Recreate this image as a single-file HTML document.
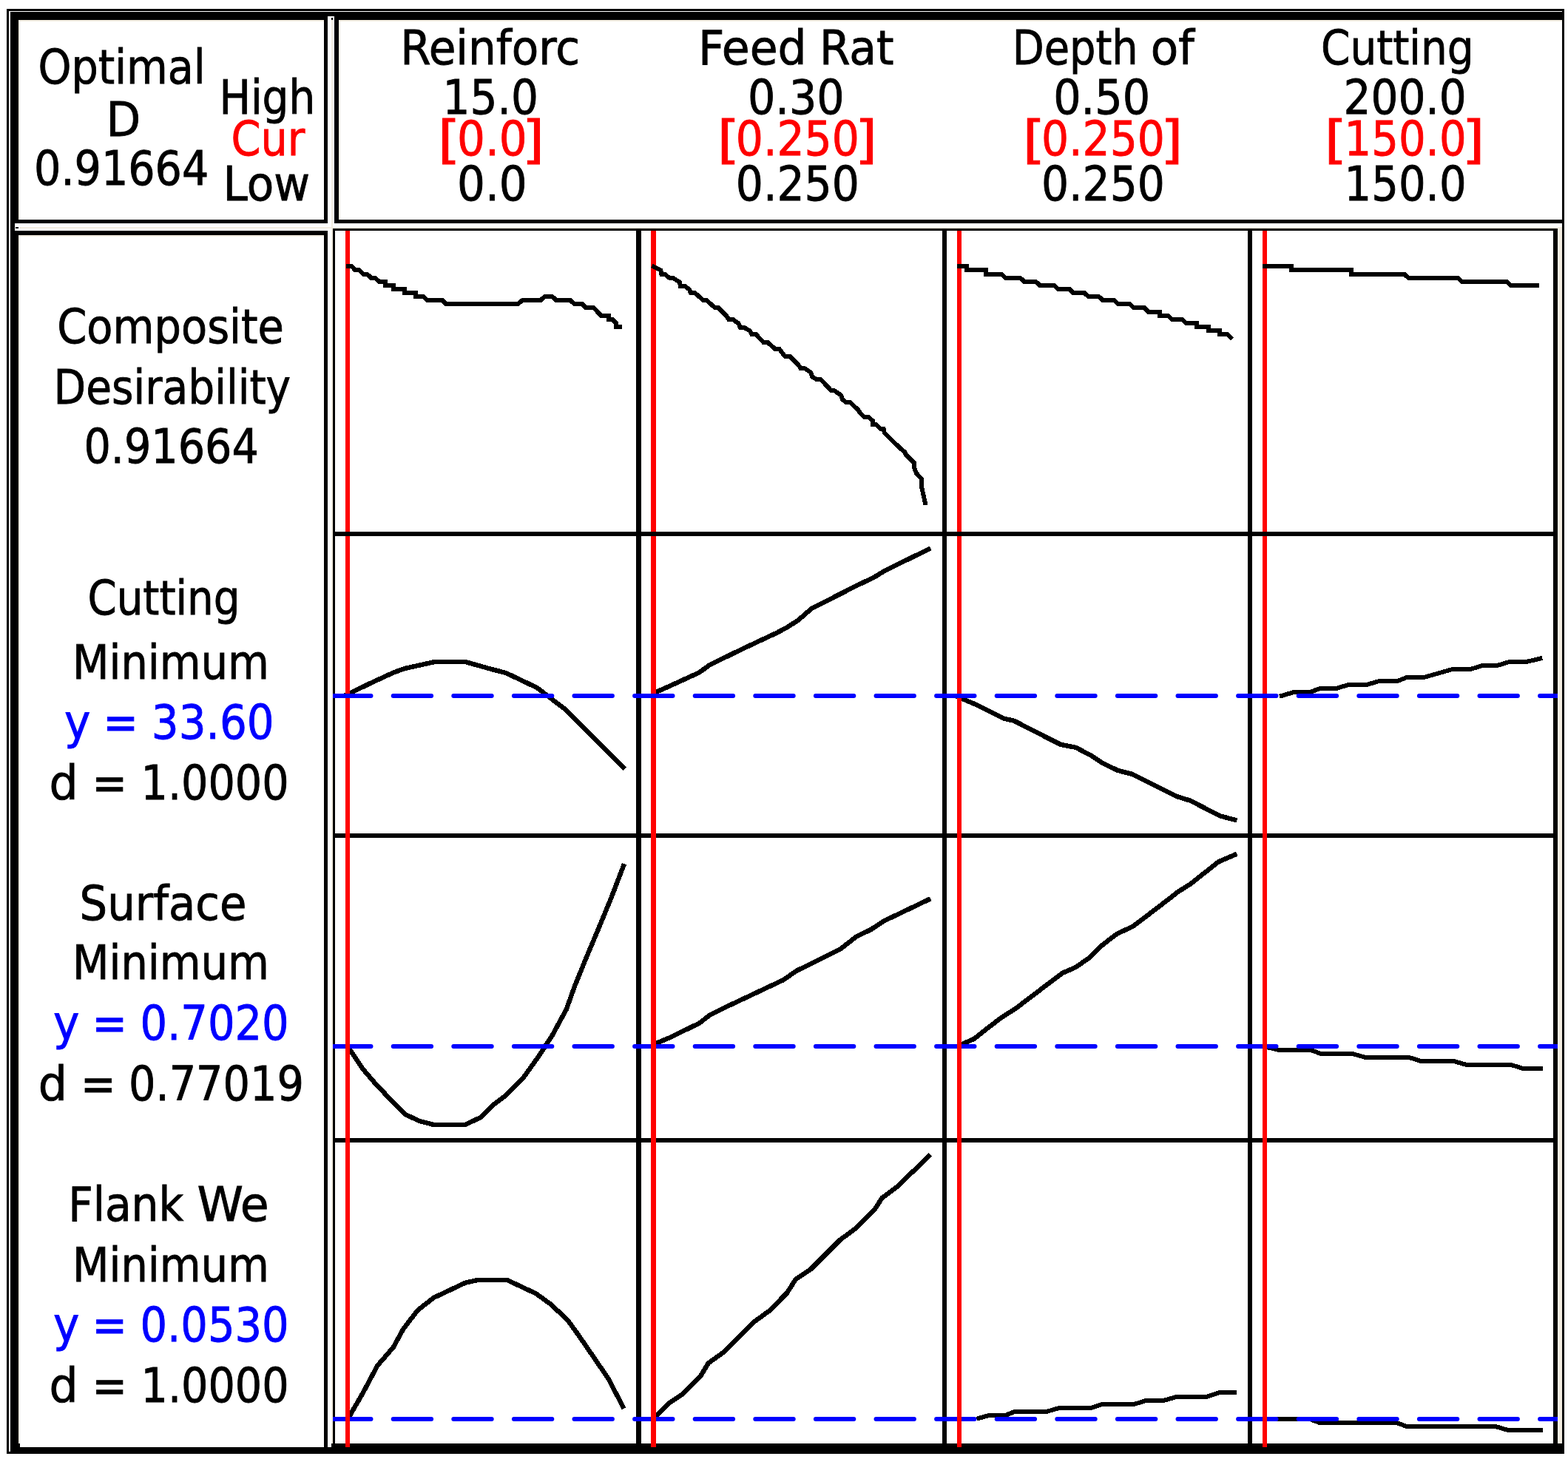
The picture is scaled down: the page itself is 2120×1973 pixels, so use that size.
<!DOCTYPE html>
<html lang="en"><head><meta charset="utf-8"><title>Optimization Plot</title>
<style>html,body{margin:0;padding:0;background:#fff;overflow:hidden}svg{display:block}text{font-family:"DejaVu Sans Condensed","DejaVu Sans","Liberation Sans",sans-serif;font-size:64px;stroke-width:0.8}</style>
</head><body>
<svg width="2120" height="1973" viewBox="0 0 2120 1973">
<defs><clipPath id="plot"><rect x="450" y="309" width="1656" height="1648"/></clipPath></defs>
<rect width="2120" height="1973" fill="#fff"/>
<g shape-rendering="crispEdges">
<rect x="25" y="27" width="2" height="270" fill="#f3ede1"/>
<rect x="25" y="27" width="413" height="2" fill="#f3ede1"/>
<rect x="25" y="318" width="2" height="1634" fill="#f3ede1"/>
<rect x="25" y="318" width="413" height="2" fill="#f3ede1"/>
<rect x="458" y="27" width="2" height="270" fill="#f3ede1"/>
<rect x="458" y="27" width="1654" height="2" fill="#f3ede1"/>
<rect x="448" y="27" width="2" height="1925" fill="#f3ede1"/>
<rect x="26" y="307" width="2080" height="2" fill="#f3ede1"/>
<rect x="2106" y="307" width="6" height="1645" fill="#f3ede1"/>
</g>
<g fill="none" stroke="#000" stroke-width="6.4" stroke-linejoin="round" stroke-linecap="butt" shape-rendering="crispEdges">
<polyline points="465.7,940.9 503.2,922.8 532,909.5 547.5,903.9 587.4,895.1 629.5,895.1 665,905.1 683.8,909.9 725.9,929.9 765.8,960.5 844.7,1039.8"/>
<polyline points="881.1,938.5 904.3,928.3 945.3,909.5 959.7,899.1 1001.8,878.5 1050.6,855.6 1063.9,848.5 1079.4,838.6 1097.1,823.1 1158.1,792 1181.4,780.9 1196.9,771.4 1258.3,741.4"/>
<polyline points="1292.8,941.5 1319.3,952.7 1357,971.5 1371.4,974.9 1412.4,995.9 1434.6,1007 1454.5,1010.8 1476.7,1022.5 1490,1031.4 1511,1041.8 1531,1046.9 1550.9,1056.9 1591.9,1077.3 1609.6,1082.8 1649.5,1103.4 1672.3,1109.4"/>
<polyline points="468.9,1413.1 489.9,1444.7 509.8,1468 547.5,1506.8 567.5,1516.1 587.4,1521.2 628.4,1521.2 649.5,1511.2 666.1,1494.6 682.7,1482.4 707.1,1458 727,1430.3 745.9,1401.5 765.8,1364.9 776.9,1333.9 791.3,1298.4 809,1256.3 826.8,1213.1 844,1168.2"/>
<polyline points="881.1,1413.3 904.3,1403.7 945.3,1383.8 959.7,1372.7 981.9,1361.6 1059.5,1325 1076.1,1313.3 1137,1282.9 1158.1,1266.3 1176.9,1257.4 1194.6,1245.7 1258.3,1215.2"/>
<polyline points="1292.8,1415.6 1317.1,1404.8 1333.7,1391.5 1352.6,1377.1 1374.7,1362.7 1430.1,1320.6 1436.8,1315.7 1454.5,1308 1474.5,1294 1491.1,1277.4 1509.9,1263 1532.1,1252.6 1585.3,1212 1591.9,1206.5 1609.6,1195.4 1647.3,1165.5 1672.3,1154.8"/>
<polyline points="470.8,1918 490.9,1883.3 510.2,1846.9 531.7,1822 545.4,1797 564.6,1772 586.2,1755 629.4,1734.6 647.5,1730.7 685,1730.7 724.7,1749.3 745.1,1764.1 767.8,1785.6 782.6,1806.1 822.3,1864 843.6,1904.8"/>
<polyline points="882.9,1918.8 905.4,1896.9 922.4,1885.5 947.4,1860.6 957.6,1843.5 978.1,1828.8 1018.9,1787.9 1039.4,1773.2 1064.3,1748.2 1075.7,1730 1096.1,1716.4 1135.8,1676.7 1157.4,1660.8 1182.4,1635.8 1192.6,1619.9 1214.2,1604 1257.5,1561.4"/>
</g>
<g fill="none" stroke="#000" stroke-width="6" stroke-linejoin="miter" stroke-linecap="butt" shape-rendering="crispEdges">
<polyline points="1729.9,941.8 1749.8,935.8 1772,935.8 1785.3,930.7 1807.5,930.7 1824.1,925.8 1848.5,925.8 1865.1,920.9 1889.5,920.9 1902.8,915.8 1926,915.8 1964.8,904.7 1989.2,904.7 2004.7,899.9 2024.6,899.9 2041.3,894.8 2064.5,894.8 2085.2,889.9"/>
<polyline points="1713.2,1416.2 1729.1,1419.8 1771.3,1419.8 1785.1,1424.6 1827.3,1424.6 1845.3,1429.7 1904.4,1429.7 1921.3,1435 1965.7,1435 1982.6,1439.9 2042.8,1439.9 2059.7,1445.1 2085.8,1445.1"/>
<polyline points="1320.4,1918.7 1337.3,1913.9 1359.5,1913.9 1372.2,1908.8 1415.5,1908.8 1432.4,1903.9 1475.7,1903.9 1489.4,1899.1 1532.7,1899.1 1549.6,1894 1572.9,1894 1589.8,1889.2 1629.9,1889.2 1648.9,1883.2 1671.9,1883.2"/>
<polyline points="1713.2,1918.7 1770.3,1918.7 1784,1924 1888.6,1924 1901.3,1928.9 2021.7,1928.9 2038.6,1933.9 2085.8,1933.9"/>
</g>
<g shape-rendering="crispEdges">
<rect x="9" y="12" width="2106" height="3" fill="#000"/>
<rect x="9" y="1963" width="2106" height="3" fill="#000"/>
<rect x="9" y="12" width="3" height="1954" fill="#000"/>
<rect x="2112" y="12" width="3" height="1954" fill="#000"/>
<rect x="14" y="16" width="2098" height="11" fill="#000"/>
<rect x="443" y="22" width="9" height="5" fill="#fff"/>
<rect x="448" y="24" width="2" height="3" fill="#000"/>
<rect x="14" y="16" width="11" height="286" fill="#000"/>
<rect x="438" y="16" width="5" height="286" fill="#000"/>
<rect x="14" y="297" width="429" height="5" fill="#000"/>
<rect x="14" y="302" width="6" height="10" fill="#000"/>
<rect x="21" y="307" width="4" height="2" fill="#000"/>
<rect x="14" y="312" width="11" height="1654" fill="#000"/>
<rect x="14" y="312" width="429" height="6" fill="#000"/>
<rect x="438" y="312" width="5" height="1645" fill="#000"/>
<rect x="14" y="1957" width="2101" height="9" fill="#000"/>
<rect x="448" y="1952" width="1667" height="5" fill="#000"/>
<rect x="25" y="1952" width="2" height="5" fill="#000"/>
<rect x="452" y="22" width="6" height="280" fill="#000"/>
<rect x="452" y="297" width="1660" height="5" fill="#000"/>
<rect x="450" y="309" width="1656" height="3" fill="#000"/>
<rect x="450" y="309" width="3" height="1643" fill="#000"/>
<rect x="2100" y="309" width="6" height="1643" fill="#000"/>
<rect x="860" y="309" width="7" height="1643" fill="#000"/>
<rect x="1274" y="309" width="6" height="1643" fill="#000"/>
<rect x="1687" y="309" width="6" height="1643" fill="#000"/>
<rect x="450" y="719" width="1656" height="6" fill="#000"/>
<rect x="450" y="1127" width="1656" height="6" fill="#000"/>
<rect x="450" y="1539" width="1656" height="6" fill="#000"/>
</g>
<g fill="none" stroke="#00f" stroke-width="6" stroke-dasharray="51.4 30.2" stroke-linecap="round" clip-path="url(#plot)">
<path d="M450.1 1415 H2112"/>
<path d="M450.1 1919 H2112"/>
</g>
<g shape-rendering="crispEdges">
<rect x="467" y="312" width="6" height="407" fill="#f00"/>
<rect x="467" y="725" width="6" height="1232" fill="#f00"/>
<rect x="880" y="312" width="7" height="407" fill="#f00"/>
<rect x="880" y="725" width="7" height="1232" fill="#f00"/>
<rect x="1294" y="312" width="6" height="407" fill="#f00"/>
<rect x="1294" y="725" width="6" height="1232" fill="#f00"/>
<rect x="1707" y="312" width="6" height="407" fill="#f00"/>
<rect x="1707" y="725" width="6" height="1232" fill="#f00"/>
</g>
<g fill="none" stroke="#000" stroke-width="6" stroke-linejoin="miter" stroke-linecap="butt" shape-rendering="crispEdges">
<polyline points="467.6,360.1 475.4,360.1 480.6,365.4 485.9,365.4 491.2,370.8 496.5,370.8 501.8,375.9 507,375.9 513,381 520.8,381 520.8,386.1 532,386.1 532,391.1 546.8,391.1 546.8,396.2 562,396.2 562,401.1 572.5,401.1 577.8,406.1 597.9,406.1 603.2,411 700.4,411 706.1,406.1 731,406.1 736.3,401.1 746.8,401.1 752.1,406.1 771.1,406.1 776.4,411 787,411 792.3,416.1 802.4,416.1 813,426.8 822.9,426.8 822.9,431.9 828.2,431.9 832.8,436.8 832.8,442 840.5,442"/>
<polyline points="881.1,359.4 893.2,365.4 894.4,370.9 898.8,370.9 905.4,376 909.9,376 918.7,381.4 919.8,386.5 925.4,386.5 932,391.6 934.2,396.4 939.8,396.4 950.9,406 955.3,406 966.4,415.9 970.8,415.9 981.9,426.8 985.2,431.9 990.8,431.9 998.5,437.4 1000.7,442.5 1005.2,442.5 1014,447.4 1016.2,451.8 1021.8,451.8 1031.8,462.5 1037.3,462.5 1048.4,472.2 1053.9,472.2 1061.7,482.4 1068.3,482.4 1079.4,493.3 1082.7,498.4 1088.3,498.4 1096,503.5 1098.2,509.5 1103.8,512.8 1109.3,512.8 1119.3,523.2 1123.7,528.3 1128.2,528.3 1137,534.5 1139.2,540.5 1143.7,543.8 1149.2,543.8 1160.3,554.4 1163.6,559.3 1169.2,564.4 1174.7,564.4 1180.2,569.3 1180.2,574.4 1184.7,574.4 1190.2,579.9 1194.6,579.9 1195.8,585.5 1216.8,605.9 1223.5,611.4 1224.6,614.7 1235.6,625.8 1235.6,631.4 1239,640.2 1245.6,646.9 1245.6,656.8 1251.6,683"/>
<polyline points="1293.6,360.1 1307.1,360.1 1307.1,365.4 1333.1,365.4 1333.1,370.8 1354.2,370.8 1359.5,375.9 1379.6,375.9 1384.9,381 1400.7,381 1406,386.1 1425.4,386.1 1430.9,391.1 1446.1,391.1 1451.4,396.2 1466.2,396.2 1471.5,401.1 1485.8,401.1 1491.1,406.1 1506.3,406.1 1511.6,411 1527.5,411 1532.7,416.1 1547.1,416.1 1552.8,422 1567.6,422 1567.6,426.8 1579.2,426.8 1584.5,431.9 1598.2,431.9 1603.5,437.2 1618.3,437.2 1618.3,442 1634.2,442 1634.2,446.9 1648.9,446.9 1648.9,452.2 1659.5,452.2 1666.1,458.5"/>
<polyline points="1706.9,360.1 1746,360.1 1746,365.4 1827.3,365.4 1827.3,371.3 1899.2,371.3 1904.4,375.9 1971.4,375.9 1976.3,381 2037.5,381 2042.4,386.1 2080.5,386.1"/>
</g>
<g fill="none" stroke="#00f" stroke-width="6" stroke-dasharray="51.4 30.2" stroke-linecap="round" clip-path="url(#plot)">
<path d="M450.1 941 H2112"/>
</g>
<g>
<text y="113" fill="#000" stroke="#000"><tspan x="51.5" textLength="226.2" lengthAdjust="spacingAndGlyphs">Optimal</tspan></text>
<text y="183.6" fill="#000" stroke="#000"><tspan x="143.6" textLength="46.7" lengthAdjust="spacingAndGlyphs">D</tspan></text>
<text y="250" fill="#000" stroke="#000"><tspan x="46.1" textLength="236.2" lengthAdjust="spacingAndGlyphs">0.91664</tspan></text>
<text y="153.7" fill="#000" stroke="#000"><tspan x="296.5" textLength="129.7" lengthAdjust="spacingAndGlyphs">High</tspan></text>
<text y="209.6" fill="#f00" stroke="#f00"><tspan x="312.6" textLength="99.7" lengthAdjust="spacingAndGlyphs">Cur</tspan></text>
<text y="270.6" fill="#000" stroke="#000"><tspan x="301.6" textLength="117.5" lengthAdjust="spacingAndGlyphs">Low</tspan></text>
<text y="86.8" fill="#000" stroke="#000"><tspan x="541.2" textLength="242.8" lengthAdjust="spacingAndGlyphs">Reinforc</tspan></text>
<text y="153.8" fill="#000" stroke="#000"><tspan x="598.6" textLength="129.3" lengthAdjust="spacingAndGlyphs">15.0</tspan></text>
<text y="210.4" fill="#f00" stroke="#f00"><tspan x="591.7" y="213.2" font-size="69.9" textLength="30.9" lengthAdjust="spacingAndGlyphs">[</tspan><tspan x="618.0" y="210.4" textLength="94.7" lengthAdjust="spacingAndGlyphs">0.0</tspan><tspan x="705.7" y="213.2" font-size="69.9" textLength="30.5" lengthAdjust="spacingAndGlyphs">]</tspan></text>
<text y="271" fill="#000" stroke="#000"><tspan x="618.0" textLength="94.7" lengthAdjust="spacingAndGlyphs">0.0</tspan></text>
<text y="86.8" fill="#000" stroke="#000"><tspan x="944.1" textLength="146.5" lengthAdjust="spacingAndGlyphs">Feed</tspan> <tspan x="1108.0" textLength="100.4" lengthAdjust="spacingAndGlyphs">Rat</tspan></text>
<text y="153.8" fill="#000" stroke="#000"><tspan x="1011.0" textLength="130.6" lengthAdjust="spacingAndGlyphs">0.30</tspan></text>
<text y="210.4" fill="#f00" stroke="#f00"><tspan x="969.4" y="213.2" font-size="69.9" textLength="30.9" lengthAdjust="spacingAndGlyphs">[</tspan><tspan x="994.8" y="210.4" textLength="167.1" lengthAdjust="spacingAndGlyphs">0.250</tspan><tspan x="1156.0" y="213.2" font-size="69.9" textLength="30.2" lengthAdjust="spacingAndGlyphs">]</tspan></text>
<text y="271" fill="#000" stroke="#000"><tspan x="994.8" textLength="167.1" lengthAdjust="spacingAndGlyphs">0.250</tspan></text>
<text y="86.8" fill="#000" stroke="#000"><tspan x="1368.8" textLength="169.9" lengthAdjust="spacingAndGlyphs">Depth</tspan> <tspan x="1555.8" textLength="59.0" lengthAdjust="spacingAndGlyphs">of</tspan></text>
<text y="153.8" fill="#000" stroke="#000"><tspan x="1424.2" textLength="130.9" lengthAdjust="spacingAndGlyphs">0.50</tspan></text>
<text y="210.4" fill="#f00" stroke="#f00"><tspan x="1382.6" y="213.2" font-size="69.9" textLength="30.9" lengthAdjust="spacingAndGlyphs">[</tspan><tspan x="1408.0" y="210.4" textLength="166.8" lengthAdjust="spacingAndGlyphs">0.250</tspan><tspan x="1569.2" y="213.2" font-size="69.9" textLength="30.2" lengthAdjust="spacingAndGlyphs">]</tspan></text>
<text y="271" fill="#000" stroke="#000"><tspan x="1408.0" textLength="166.8" lengthAdjust="spacingAndGlyphs">0.250</tspan></text>
<text y="86.8" fill="#000" stroke="#000"><tspan x="1786.0" textLength="206.6" lengthAdjust="spacingAndGlyphs">Cutting</tspan></text>
<text y="153.8" fill="#000" stroke="#000"><tspan x="1816.6" textLength="166.0" lengthAdjust="spacingAndGlyphs">200.0</tspan></text>
<text y="210.4" fill="#f00" stroke="#f00"><tspan x="1790.5" y="213.2" font-size="69.9" textLength="30.9" lengthAdjust="spacingAndGlyphs">[</tspan><tspan x="1817.6" y="210.4" textLength="165.0" lengthAdjust="spacingAndGlyphs">150.0</tspan><tspan x="1976.4" y="213.2" font-size="69.9" textLength="31.1" lengthAdjust="spacingAndGlyphs">]</tspan></text>
<text y="271" fill="#000" stroke="#000"><tspan x="1817.6" textLength="165.0" lengthAdjust="spacingAndGlyphs">150.0</tspan></text>
<text y="463.5" fill="#000" stroke="#000"><tspan x="77.2" textLength="306.8" lengthAdjust="spacingAndGlyphs">Composite</tspan></text>
<text y="545.5" fill="#000" stroke="#000"><tspan x="72.6" textLength="320.5" lengthAdjust="spacingAndGlyphs">Desirability</tspan></text>
<text y="626.4" fill="#000" stroke="#000"><tspan x="113.4" textLength="236.5" lengthAdjust="spacingAndGlyphs">0.91664</tspan></text>
<text y="830.9" fill="#000" stroke="#000"><tspan x="118.4" textLength="206.1" lengthAdjust="spacingAndGlyphs">Cutting</tspan></text>
<text y="918" fill="#000" stroke="#000"><tspan x="98.0" textLength="265.9" lengthAdjust="spacingAndGlyphs">Minimum</tspan></text>
<text y="998.9" fill="#00f" stroke="#00f"><tspan x="87.1" textLength="35.4" lengthAdjust="spacingAndGlyphs">y</tspan> <tspan x="139.3" textLength="47.7" lengthAdjust="spacingAndGlyphs">=</tspan> <tspan x="204.8" textLength="165.8" lengthAdjust="spacingAndGlyphs">33.60</tspan></text>
<text y="1080.9" fill="#000" stroke="#000"><tspan x="66.5" textLength="39.1" lengthAdjust="spacingAndGlyphs">d</tspan> <tspan x="124.4" textLength="47.4" lengthAdjust="spacingAndGlyphs">=</tspan> <tspan x="190.6" textLength="200.0" lengthAdjust="spacingAndGlyphs">1.0000</tspan></text>
<text y="1244.1" fill="#000" stroke="#000"><tspan x="107.6" textLength="225.8" lengthAdjust="spacingAndGlyphs">Surface</tspan></text>
<text y="1324.4" fill="#000" stroke="#000"><tspan x="98.0" textLength="265.9" lengthAdjust="spacingAndGlyphs">Minimum</tspan></text>
<text y="1406.4" fill="#00f" stroke="#00f"><tspan x="71.9" textLength="35.4" lengthAdjust="spacingAndGlyphs">y</tspan> <tspan x="124.4" textLength="47.4" lengthAdjust="spacingAndGlyphs">=</tspan> <tspan x="189.5" textLength="201.2" lengthAdjust="spacingAndGlyphs">0.7020</tspan></text>
<text y="1488.1" fill="#000" stroke="#000"><tspan x="51.7" textLength="39.1" lengthAdjust="spacingAndGlyphs">d</tspan> <tspan x="109.1" textLength="47.7" lengthAdjust="spacingAndGlyphs">=</tspan> <tspan x="174.0" textLength="236.9" lengthAdjust="spacingAndGlyphs">0.77019</tspan></text>
<text y="1650.9" fill="#000" stroke="#000"><tspan x="92.2" textLength="156.1" lengthAdjust="spacingAndGlyphs">Flank</tspan> <tspan x="266.4" textLength="97.4" lengthAdjust="spacingAndGlyphs">We</tspan></text>
<text y="1732.7" fill="#000" stroke="#000"><tspan x="98.0" textLength="265.9" lengthAdjust="spacingAndGlyphs">Minimum</tspan></text>
<text y="1814" fill="#00f" stroke="#00f"><tspan x="71.9" textLength="35.4" lengthAdjust="spacingAndGlyphs">y</tspan> <tspan x="124.4" textLength="47.4" lengthAdjust="spacingAndGlyphs">=</tspan> <tspan x="189.5" textLength="201.2" lengthAdjust="spacingAndGlyphs">0.0530</tspan></text>
<text y="1896" fill="#000" stroke="#000"><tspan x="66.5" textLength="39.1" lengthAdjust="spacingAndGlyphs">d</tspan> <tspan x="124.4" textLength="47.4" lengthAdjust="spacingAndGlyphs">=</tspan> <tspan x="190.6" textLength="200.0" lengthAdjust="spacingAndGlyphs">1.0000</tspan></text>
</g>
</svg>
</body></html>
